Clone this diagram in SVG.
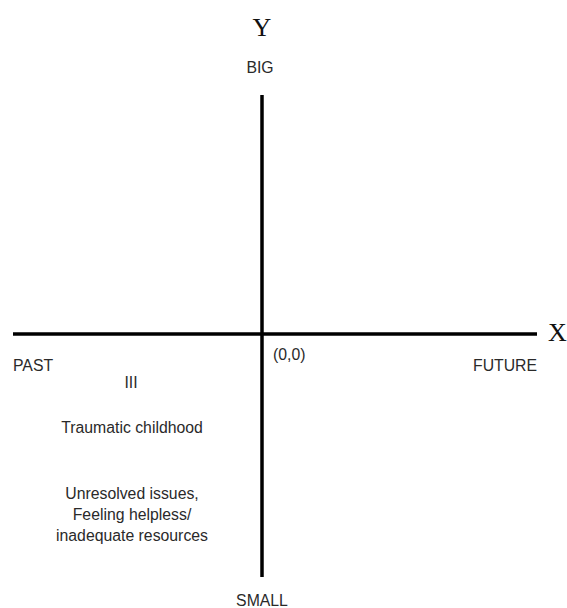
<svg xmlns="http://www.w3.org/2000/svg" width="567" height="608" viewBox="0 0 567 608">
<style>
.t{font-family:"Liberation Sans",Arial,sans-serif;font-size:15.8px;fill:#2a2a2a}
.ax{font-family:"Liberation Serif","Times New Roman",serif;font-size:26px;fill:#111}
.ln{stroke:#000;stroke-width:3.5}
</style>
<rect width="567" height="608" fill="#fff"/>
<g id="connectors">
<line class="ln" x1="262" y1="95" x2="262" y2="577"/>
<line class="ln" x1="13" y1="334" x2="537" y2="334"/>
</g>
<g id="y-label"><text class="ax" x="262" y="36" text-anchor="middle">Y</text></g>
<g id="x-label"><text class="ax" x="548" y="341">X</text></g>
<g id="big"><text class="t" x="260" y="73" text-anchor="middle">BIG</text></g>
<g id="small"><text class="t" x="262" y="606" text-anchor="middle">SMALL</text></g>
<g id="past"><text class="t" x="13" y="371">PAST</text></g>
<g id="future"><text class="t" x="473" y="371">FUTURE</text></g>
<g id="origin"><text class="t" x="273" y="360">(0,0)</text></g>
<g id="quadrant"><text class="t" x="131" y="388" text-anchor="middle">III</text></g>
<g id="traumatic"><text class="t" x="132" y="433" text-anchor="middle">Traumatic childhood</text></g>
<g id="unresolved"><text class="t" text-anchor="middle"><tspan x="132" y="499">Unresolved issues,</tspan><tspan x="132" y="520">Feeling helpless/</tspan><tspan x="132" y="541">inadequate resources</tspan></text></g>
</svg>
